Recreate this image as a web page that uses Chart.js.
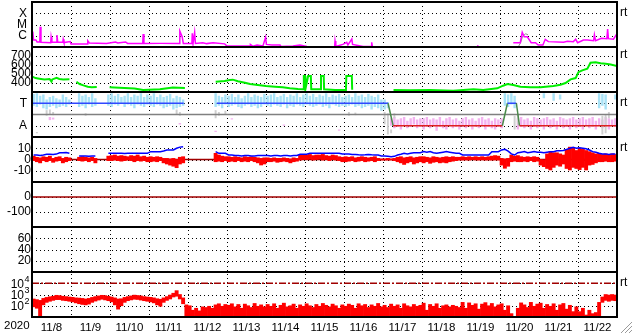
<!DOCTYPE html>
<html><head><meta charset="utf-8">
<script src="https://cdn.jsdelivr.net/npm/chart.js@4/dist/chart.umd.min.js"></script>
<style>html,body{margin:0;padding:0;background:#fff}canvas{display:block}</style>
</head><body>
<canvas id="c" width="633" height="334"></canvas>
<script>
const _ = null;
// ---- axis labels ----
const yearLabel = '2020';
const dayLabels = ['11/8','11/9','11/10','11/11','11/12','11/13','11/14','11/15','11/16','11/17','11/18','11/19','11/20','11/21','11/22'];
const xrayClassLevels = [10, 100, 1000];           // x1e-7 W/m2
const xrayClassLabels = ['C', 'M', 'X'];
const speedTicks = [400, 500, 600, 700];
const sectorLevels = [90, 270];
const sectorLabels = ['A', 'T'];
const imfTicks = [-10, 0, 10];
const dstTicks = [-100, 0];
const kpTicks = [20, 40, 60];
const fluxTicks = [100, 1000, 10000];
const fluxTickBase = '10';
const fluxTickExp = ['2', '3', '4'];

// ---- X-ray flux (days since 11/8 00UT, x1e-7 W/m2) ----
const xrayT = [0.00,0.02,0.04,0.10,0.13,0.20,0.21,0.23,0.48,0.49,0.51,0.63,0.64,0.66,0.79,0.80,0.82,0.98,1.00,1.42,1.43,1.47,1.91,2.14,2.20,2.40,2.45,2.84,2.85,2.87,3.30,3.78,3.79,3.85,3.88,4.10,4.11,4.13,4.17,4.19,4.38,4.48,4.64,4.94,5.00,5.59,5.60,5.66,5.77,5.92,5.99,6.01,6.15,6.36,6.37,6.69,6.87,7.05,7.31,7.76,7.77,7.79,7.97,8.07,8.10,8.20,8.22,8.49,8.70,8.71,8.73,9.00,9.01,11.41,11.45,11.46,11.71,11.72,11.88,11.89,12.34,12.52,12.57,12.62,12.70,12.80,12.91,12.98,13.10,13.16,13.24,13.63,13.73,13.88,13.94,13.99,14.14,14.24,14.40,14.42,14.45,14.60,14.74,14.76,14.78,14.91,14.99,15.00];
const xrayF = [3.0,23,4.2,4.2,2.8,2.8,63,2.6,2.4,7.3,2.6,2.6,11.7,2.6,2.6,4.8,2.5,3.0,1.85,1.85,3.6,2.3,2.1,2.8,2.3,2.8,2.1,2.1,14.3,2.0,2.1,2.1,26.5,8.2,2.1,2.1,16.5,2.1,20,2.1,2.4,2.0,2.4,1.9,1.2,1.2,1.7,1.2,1.5,1.2,7.3,1.7,1.5,1.5,1.1,1.2,1.5,1.1,1.05,1.05,3.4,1.1,1.7,2.6,1.5,5.1,1.7,1.1,1.1,2.6,1.05,1.05,_,1.2,1.2,_,2.1,_,2.1,_,2.4,2.4,20,8.2,8.2,2.4,2.4,1.5,1.5,4.8,3.0,2.6,3.2,3.0,4.8,2.4,4.2,4.2,3.6,12,3.6,5.9,5.5,40,5.5,5.0,13.5,13.5];
const xray2T = [12.48,12.53,12.58,12.66,12.72];
const xray2F = [1.2,2.5,9,15,12];

// ---- Solar wind speed (km/s) ----
const speedT = [0.01,0.09,0.19,0.32,0.45,0.50,0.52,0.63,0.70,0.80,0.96,0.97,1.14,1.22,1.32,1.43,1.53,1.66,1.67,1.99,2.37,2.63,2.85,3.28,3.61,3.92,3.93,4.71,4.94,5.07,5.15,5.28,5.46,5.59,5.79,6.00,6.23,6.43,6.61,6.82,6.95,6.97,7.00,7.01,7.08,7.15,7.16,7.40,7.41,7.48,7.49,7.77,8.05,8.06,8.20,8.21,8.22,9.27,9.70,10.21,10.80,11.32,11.57,11.93,12.08,12.19,12.34,12.52,12.78,13.04,13.37,13.55,13.68,13.81,13.94,14.01,14.11,14.24,14.32,14.45,14.58,14.71,14.84,15.00];
const speedV = [470,455,448,440,445,415,440,458,445,440,442,_,414,389,374,359,352,356,_,352,345,340,322,330,350,345,_,414,422,433,437,419,403,389,378,367,359,352,341,333,330,478,478,330,478,478,330,330,478,478,330,322,322,478,478,325,_,322,320,322,315,330,322,341,370,389,378,359,352,352,367,380,400,440,455,520,540,560,625,630,620,615,605,590];

// ---- IMF sector (deg), 2-hour bins ----
const sectorT = [0,3.89,3.90,4.74,9.13,9.26,12.06,12.19,12.42,12.50,15];
const sectorV = [270,270,_,270,270,90,90,270,270,90,90];
const sectorMid = [180,180];
const phiToward = [
[250,345],[240,350],[260,330],[230,340],[220,300],[240,320],[250,330],[230,310],[240,300],[250,340],[240,320],[260,300],
_,_,[240,350],[250,330],[230,340],[260,320],[240,350],[250,310],_,_,_,[250,340],
[240,350],[260,330],[250,345],[270,320],[240,330],[260,350],[250,320],[230,340],[260,330],[250,350],[240,320],[260,340],
[250,330],[240,350],[260,320],[250,340],[230,320],[240,330],[250,345],[220,310],[230,330],[240,320],[250,300],_,
_,_,_,_,_,_,_,_,[240,350],[250,330],[230,320],[260,340],
[240,330],[250,345],[260,320],[240,340],[230,310],[250,330],[260,350],[240,320],[250,340],[230,330],[240,320],[260,345],
[250,330],[240,340],[260,350],[250,320],[240,330],[260,345],[230,320],[250,340],[240,330],[260,350],[250,320],[240,340],
[260,350],[250,330],[240,345],[250,320],[260,340],[240,330],[250,350],[230,320],[260,340],[250,330],[240,345],[250,320],
[240,330],[250,340],[260,320],[240,350],[250,330],[230,340],[240,320],[250,345],[220,330],[240,320],[230,340],[210,300],
[220,300],[230,280],_,_,_,_,_,_,_,_,_,_,
_,_,_,_,_,_,_,_,_,_,_,_,
_,_,_,_,_,_,_,_,_,_,_,_,
_,[250,350],[240,340],[260,350],[230,330],_,_,_,_,_,_,_,
_,[310,350],_,_,[290,350],_,[300,340],_,_,_,_,_,
_,_,_,_,_,_,[230,350],[250,345],[220,340],_,_,[300,340]];
const phiAway = [
_,_,_,_,_,[135,160],[140,155],_,_,_,_,_,
_,_,_,_,_,_,_,_,_,_,_,_,
_,_,_,_,_,_,_,_,_,_,_,_,
_,_,_,_,_,_,_,_,_,[100,112],_,_,
_,_,_,_,_,_,_,_,[40,50],_,_,_,
_,[140,150],_,_,_,_,_,_,_,_,_,_,
_,_,_,_,_,[90,100],_,_,_,_,_,_,
_,_,_,_,_,_,_,_,_,_,[50,60],_,
_,_,_,_,_,_,_,_,_,_,_,_,
_,_,[90,150],[70,160],[80,140],[60,150],[90,160],[70,130],[80,150],[100,160],[70,140],[80,150],
[60,150],[80,160],[70,140],[90,150],[50,140],[80,160],[70,130],[60,150],[90,160],[70,140],[80,150],[60,130],
[80,150],[70,160],[90,140],[60,150],[80,130],[70,150],[90,160],[60,140],[80,150],[70,130],[60,150],[80,140],
[70,150],_,_,_,_,[60,150],[80,160],[70,140],[90,150],[60,130],[80,160],[70,150],
[80,140],[60,150],[90,160],[70,140],[80,150],[60,130],[90,160],[70,150],[80,140],[60,150],[90,160],[70,140],
[80,150],[60,160],[90,140],[70,150],[80,160],[60,130],[90,150],[70,140],[80,160],[60,150],[90,140],[80,150]];
const phiOther = [
_,[30,40],_,_,[170,215],[180,220],[175,200],_,_,_,_,_,
_,_,_,_,[170,190],_,_,_,_,_,_,_,
_,_,_,_,_,_,_,_,_,_,_,_,
_,_,_,_,_,_,_,_,[180,220],[170,200],_,_,
_,_,_,_,_,_,_,_,[150,215],[170,200],_,[180,210],
_,_,_,_,_,_,_,_,_,_,_,_,
_,_,_,_,_,_,_,_,_,_,_,_,
_,_,_,_,_,_,_,_,_,_,_,_,
_,[170,200],_,[175,195],_,_,_,_,_,_,_,_,
[100,200],[20,190],[30,60],[150,190],_,_,_,_,_,_,_,_,
_,_,_,_,_,_,_,_,_,_,_,_,
_,_,_,_,_,_,_,_,_,_,_,_,
_,_,_,_,[60,170],[100,180],_,_,_,_,_,_,
_,_,_,_,_,_,_,_,_,_,_,_,
_,_,_,_,_,_,_,[20,170],[30,180],[150,200],_,_];

// ---- IMF Bz range and Bt (nT), 2-hour bins ----
const bzRange = [
[-1,3],[-2,2],[-3,1.5],[-1,2.5],[-2,2],[-1,3],[-2.5,1],[-1.5,2],[-1,2.5],[-3,1],[-2,2],[-1,1.5],
_,_,[-1,2],[-1.5,2.5],[-1,2],[-2,1.5],[-1,2],[-3,1],_,_,_,[-1,3],
[-1,3.5],[-0.5,4],[-1,3],[-1.5,3.5],[-1,3],[-0.5,2.5],[-1,3.5],[-2,3],[-1,4],[-1.5,2.5],[-1,3],[-2,2],
[-2,2.5],[-1.5,2],[-2,2.5],[-1,2],[-3,1],[-4,1],[-5,0.5],[-6,1],[-7.3,0],[-4,2],[-3,2.5],_,
_,_,_,_,_,_,_,_,[-2,5.5],[-1.5,4],[-2,3],[-1,2.5],
[-2,2.5],[-1.5,2],[-2,2.5],[-1,2],[-2,1.5],[-1.5,2.5],[-2,2],[-1,2.5],[-2,2],[-3,1.5],[-4.9,1],[-4,1.5],
[-2,1.5],[-2,1],[-1.5,1.5],[-2.5,1],[-2,1],[-1.5,1.5],[-2,1],[-3,0.5],[-2,1.5],[-1.5,1],[-0.5,4],[0,4.5],
[0,4],[0.5,4.5],[-0.5,3.5],[0,4],[0.5,4],[-0.5,4.5],[0,3.5],[-1,3],[0,4],[-0.5,3.5],[-1,2.5],[-2,2],
[-2,2.5],[-1.5,2],[-1,2.5],[-2,1.5],[-1.5,2],[-1,2.5],[-2,2],[-1.5,1.5],[-1,2],[-2,2.5],[-1,1],[-0.5,0.5],
[-0.5,0.5],[-0.5,1],[-0.5,0.5],[-1,1],[-2,2],[-3,2.5],[-4.4,1.5],[-3,2],[-2,2.5],[-4,1.5],[-3,2],[-2,2.5],
[-3,2.5],[-2,2],[-3.4,1.5],[-2.5,2.5],[-2,2],[-3,1.5],[-2.5,2],[-3,2.5],[-2,2],[-1.5,2.5],[-1,2],[-0.5,2],
[-0.5,2.5],[-0.4,2],[-0.5,2.5],[0,2],[-0.4,2.5],[-0.5,2],[-0.3,2.5],[-0.5,2],[-0.4,2.5],[-0.5,3],[-0.4,3.5],[-0.5,3],
[-5,1],[-7.8,0.5],[-6,1],[-2,4],[-1.5,3],[-2,3.5],[-2,2.5],[-1.5,2],[-2,2.5],[-1,2],[-2,2.5],[-1.5,2],
[-5,0],[-6.4,-0.4],[-8,5],[-9.3,7],[-7,6],[-5,6],[-6,5],[-4,4],[-8,9],[-9.3,11],[-7,10],[-8,8],
[-9,10],[-7,9],[-9.3,8],[-5,7],[-4.4,6],[-3,5],[-2,5.5],[-2,4.5],[-1.5,5],[-2,4],[-2,5],[-1.5,4.5]];
const btValues = [
4,4,3.5,4,4.6,4.6,4.5,4.8,6,6,6.2,5.5,
_,_,3.1,3.1,3.2,3,3.1,3.1,_,_,_,5.5,
5.5,5.5,5.6,5.5,5.4,5.5,5.6,5.5,5.5,5.5,5.6,5.5,
7,7,7,7,7.5,8.4,8.4,8.5,10,11,11.4,_,
_,_,_,_,_,_,_,_,7,5.5,5.5,5.5,
4,4,3.5,3.5,3.2,3.5,3.5,3.2,3.1,3.5,3.5,3.5,
3.5,3.2,3.5,3.5,3.1,3.5,3.5,3.2,3.5,3.5,4.6,4.6,
4.6,5.5,5.5,5.5,5.5,5.6,5.5,5.5,5.5,5.5,5.5,4.9,
4.9,4.9,4.5,4.5,4.2,4,4.2,4.5,4.2,4,4,3.1,
3.1,2.8,2.5,2.8,4,4.6,5.5,5,5.5,6,6,6,
7,6.5,7,6,5.5,6,6.5,7,6.5,6,5.5,5.5,
4,4,4,4,4,4,4,4,4,7,7,7,
8.5,9,7.5,5,4,6,6.5,7,6,6.5,7,6.5,
6.5,6,6.5,7,7,7.8,7.8,8,9,10,10.8,10,
10.5,10,9.5,8.4,7,6.4,5.5,5,5,4.5,5,5];
const bzZero = [0,0];
const dstZero = [0,0];

// ---- >2MeV electron flux range, 2-hour bins ----
const efluxRange = [
[80,400],[60,350],[10,300],[120,450],[200,550],[250,630],[300,700],[350,850],[350,800],[300,700],[280,650],[250,600],
[220,560],[180,500],[150,480],[130,450],[120,400],[140,450],[200,550],[260,650],[320,750],[380,850],[330,800],[280,700],
[220,600],[120,500],[50,400],[100,420],[200,550],[280,650],[330,750],[380,880],[360,820],[320,750],[280,650],[250,600],
[220,560],[180,500],[120,420],[90,380],[200,500],[300,650],[400,900],[600,1300],[700,2200],[400,1000],[150,500],[10,120],
[10,100],[10,40],[10,60],[10,35],[10,80],[10,70],[10,90],[10,60],[10,120],[10,150],[10,90],[10,130],
[10,110],[10,150],[10,80],[10,130],[10,60],[10,140],[10,100],[10,70],[10,160],[10,90],[10,120],[10,80],
[10,130],[10,90],[10,150],[10,60],[10,110],[10,170],[10,80],[10,100],[10,140],[10,60],[10,120],[10,90],
[10,150],[10,100],[10,70],[10,130],[10,90],[10,160],[10,110],[10,80],[10,140],[10,100],[10,60],[10,120],
[10,90],[10,140],[10,110],[10,60],[10,150],[10,100],[10,130],[10,70],[10,120],[10,90],[10,160],[10,80],
[10,110],[10,70],[10,140],[10,90],[10,120],[10,60],[10,150],[10,100],[10,80],[10,130],[10,90],[10,110],
[10,170],[10,40],[10,130],[10,90],[10,150],[10,60],[10,100],[10,120],[10,80],[10,110],[10,90],[10,70],
[10,200],[10,60],[10,180],[10,110],[10,150],[10,50],[10,140],[10,190],[10,100],[10,160],[10,80],[10,120],
[10,150],[10,40],[10,100],[10,20],_,[10,60],[10,180],[10,120],[10,70],[10,200],[10,90],[10,140],
[10,170],[10,60],[10,130],[10,90],[10,150],[10,40],[10,120],[10,160],[10,50],[10,110],[10,30],[10,80],
[10,30],[10,60],[10,15],[10,40],[10,20],[10,25],[10,200],[200,600],[300,1000],[250,900],[300,1000],[280,900]];
const fluxAlert = [10000,10000];
const spanT = [0, 15];

// ---- build ----
const FONT = '"Liberation Sans", Arial, sans-serif';
const binPts = arr => arr.map((v, i) => ({x: (i + 0.5) / 12, y: v}));
const tvPts = (t, v) => t.map((x, i) => ({x, y: v[i]}));
const panelIds = ['y1','y2','y3','y4','y5','y6','y7'];

function axis(id, weight, cfg) {
  const tickVals = cfg.tickVals;
  const labelOf = cfg.labelOf || (v => String(v));
  return Object.assign({
    type: 'linear', position: 'left', stack: 'panels', stackWeight: 1, weight,
    offset: false,
    grid: { display: false, drawTicks: false },
    border: { display: false },
    ticks: { color: '#000', font: { family: FONT, size: 12 }, padding: cfg.pad || 1, autoSkip: false,
      callback: (v) => labelOf(v) },
    afterBuildTicks: s => { s.ticks = tickVals.map(v => ({ value: v })); },
    afterFit: s => { s.width = 32; s.paddingTop = 0; s.paddingBottom = 0; s.paddingLeft = 0; s.paddingRight = 0; }
  }, cfg.opts);
}
const lookup = (vals, labs) => v => { const k = vals.findIndex(t => Math.abs(t - v) <= Math.abs(t) * 1e-6); return k >= 0 ? labs[k] : ''; };

const scales = {
  x: {
    type: 'linear', min: 0, max: 15, offset: false, position: 'bottom',
    afterBuildTicks: s => { const t = []; for (let i = 0; i <= 30; i++) t.push({ value: i / 2 }); s.ticks = t; },
    grid: { display: false, drawTicks: false },
    border: { display: false },
    ticks: { autoSkip: false, maxRotation: 0, minRotation: 0, padding: 4, color: '#000', font: { family: FONT, size: 11.5 },
      callback: v => (Math.abs(v % 1 - 0.5) < 1e-6) ? dayLabels[Math.floor(v)] : '' },
    afterFit: s => { s.height = 17; s.paddingLeft = 0; s.paddingRight = 0; }
  },
  y1: axis('y1', 7, { tickVals: xrayClassLevels, pad: 5, labelOf: lookup(xrayClassLevels, xrayClassLabels), opts: { type: 'logarithmic', min: 1, max: 10000 } }),
  y2: axis('y2', 6, { tickVals: speedTicks, opts: { min: 300, max: 800 } }),
  y3: axis('y3', 5, { tickVals: sectorLevels, pad: 5, labelOf: lookup(sectorLevels, sectorLabels), opts: { min: 0, max: 360 } }),
  y4: axis('y4', 4, { tickVals: imfTicks, opts: { min: -20, max: 20 } }),
  y5: axis('y5', 3, { tickVals: dstTicks, opts: { min: -200, max: 100 } }),
  y6: axis('y6', 2, { tickVals: kpTicks, opts: { min: 0, max: 80 } }),
  y7: axis('y7', 1, { tickVals: fluxTicks, labelOf: () => '', opts: { type: 'logarithmic', min: 10, max: 100000 } })
};

const line = (yAxisID, data, color, width, extra) => Object.assign({
  type: 'line', yAxisID, xAxisID: 'x', data, borderColor: color, borderWidth: width,
  pointRadius: 0, tension: 0, spanGaps: false, fill: false
}, extra || {});
const bars = (yAxisID, data, color, pct) => ({
  type: 'bar', yAxisID, xAxisID: 'x', data, backgroundColor: color, borderWidth: 0,
  grouped: false, barPercentage: pct || 1, categoryPercentage: 1
});

const segColor = c => {
  const a = c.p0.parsed.y, b = c.p1.parsed.y;
  if (a === 270 && b === 270) return '#3048ff';
  if (a === 90 && b === 90) return '#e02020';
  return '#4a8a4a';
};

const datasets = [
  line('y3', tvPts(sectorT, sectorV), '#3048ff', 1.5, { segment: { borderColor: segColor } }),
  line('y3', tvPts(spanT, sectorMid), '#808080', 1.5),
  line('y4', binPts(btValues), '#0000ff', 1.5),
  bars('y4', binPts(bzRange), '#ff0000'),
  line('y4', tvPts(spanT, bzZero), '#a00000', 1.5),
  line('y5', tvPts(spanT, dstZero), '#a00000', 1.5),
  line('y1', tvPts(xrayT, xrayF), '#ff00ff', 1.5),
  line('y1', tvPts(xray2T, xray2F), '#909090', 1),
  line('y2', tvPts(speedT, speedV), '#00ee00', 2),
  line('y7', tvPts(spanT, fluxAlert), '#a00000', 1.5, { borderDash: [7, 2, 2, 2] }),
  bars('y7', binPts(efluxRange), '#ff0000'),
  bars('y3', binPts(phiOther), '#cfcfcf', 0.6),
  bars('y3', binPts(phiAway), '#f3b2ef', 0.75),
  bars('y3', binPts(phiToward), '#a8e2f6', 0.75)
];

const rtMarks = [['y1', 1000], ['y2', 700], ['y3', 270], ['y4', 10], ['y7', 10000]];
const gridPlugin = {
  id: 'dotgrid',
  beforeDatasetsDraw(chart) {
    const { ctx, chartArea: a, scales: s } = chart;
    ctx.save();
    ctx.strokeStyle = '#000'; ctx.lineWidth = 1; ctx.setLineDash([1, 3]);
    ctx.beginPath();
    panelIds.forEach(id => {
      s[id].ticks.forEach(t => {
        const y = Math.round(s[id].getPixelForValue(t.value)) + 0.5;
        ctx.moveTo(a.left, y); ctx.lineTo(a.right, y);
      });
    });
    s.x.ticks.forEach(t => {
      if (t.value % 1 === 0 && t.value > 0 && t.value < 15) {
        const x = Math.round(s.x.getPixelForValue(t.value)) + 0.5;
        ctx.moveTo(x, a.top); ctx.lineTo(x, a.bottom);
      }
    });
    ctx.stroke();
    ctx.restore();
  }
};
const overlay = {
  id: 'overlay',
  afterDraw(chart) {
    const { ctx, chartArea: a, scales: s } = chart;
    ctx.save();
    ctx.strokeStyle = '#000'; ctx.lineWidth = 2;
    ctx.strokeRect(a.left, a.top, a.right - a.left, a.bottom - a.top);
    ctx.beginPath();
    panelIds.slice(0, -1).forEach(id => { const y = Math.round(s[id].bottom); ctx.moveTo(a.left, y); ctx.lineTo(a.right, y); });
    ctx.stroke();
    ctx.fillStyle = '#000'; ctx.textBaseline = 'middle';
    // electron flux tick labels: 10 with superscript exponent
    fluxTicks.forEach((v, k) => {
      const y = s.y7.getPixelForValue(v);
      ctx.textAlign = 'right'; ctx.font = '12px ' + FONT;
      ctx.fillText(fluxTickBase, 24, y + 1);
      ctx.textAlign = 'left'; ctx.font = '9px ' + FONT;
      ctx.fillText(fluxTickExp[k], 24.5, y - 4);
    });
    ctx.textAlign = 'left'; ctx.font = '12px ' + FONT;
    rtMarks.forEach(([id, v]) => ctx.fillText('rt', a.right + 3, s[id].getPixelForValue(v) - 1));
    ctx.font = '11.5px ' + FONT;
    ctx.fillText(yearLabel, 4, 326);
    ctx.strokeStyle = '#9a9a9a'; ctx.lineWidth = 1;
    ctx.beginPath();
    [[621, 333], [625, 333], [629, 333]].forEach(([x0, y0]) => { const d = 632 - x0; ctx.moveTo(x0, y0); ctx.lineTo(632, y0 - d); });
    ctx.stroke();
    ctx.restore();
  }
};

new Chart(document.getElementById('c'), {
  type: 'line',
  data: { datasets },
  options: {
    responsive: false, animation: false, devicePixelRatio: 1, events: [],
    layout: { padding: { left: 0, right: 16, top: 2, bottom: 0 }, autoPadding: false },
    plugins: { legend: { display: false }, tooltip: { enabled: false } },
    scales
  },
  plugins: [gridPlugin, overlay]
});
</script>
</body></html>
